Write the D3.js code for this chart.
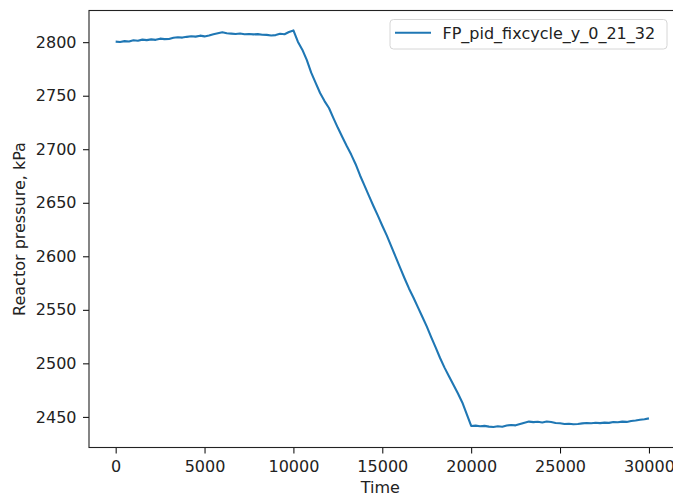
<!DOCTYPE html>
<html>
<head>
<meta charset="utf-8">
<script src="https://cdn.jsdelivr.net/npm/d3@7"></script>
<style>
  html, body { margin: 0; padding: 0; background: #fff; overflow: hidden; }
  svg { display: block; font-family: "DejaVu Sans", sans-serif; }
</style>
</head>
<body>
<svg id="chart" width="673" height="494"></svg>
<script>
// ---- data ----
const seriesName = "FP_pid_fixcycle_y_0_21_32";
const times = d3.range(0, 30001, 250);
const pressurePlateau1 = [
  2800.5, 2800.2, 2801.0, 2800.6, 2801.8, 2801.3, 2802.4, 2801.9, 2802.6, 2802.2,
  2803.3, 2802.9, 2803.0, 2804.1, 2804.6, 2804.3, 2805.0, 2805.5, 2805.2, 2806.1,
  2805.4, 2806.3, 2807.5, 2808.4, 2809.2, 2808.3, 2808.0, 2807.6, 2808.1, 2807.4,
  2807.7, 2807.3, 2807.5, 2807.0, 2806.8, 2806.2, 2806.6, 2807.9, 2807.4, 2809.5,
  2811.0
];
const pressureDecline = [
  2800.5, 2793.0, 2783.5, 2771.5, 2762.0, 2752.5, 2745.0, 2738.5, 2729.0, 2720.0,
  2711.5, 2703.0, 2695.0, 2686.0, 2675.5, 2666.0, 2656.5, 2647.0, 2638.0, 2628.5,
  2619.5, 2609.5, 2599.5, 2589.5, 2579.5, 2570.0, 2561.5, 2552.5, 2543.5, 2534.5,
  2524.5, 2515.0, 2505.0, 2496.0, 2488.0, 2480.0, 2472.0, 2463.5, 2452.5, 2441.5
];
const pressurePlateau2 = [
  2441.8, 2441.2, 2441.6, 2440.9, 2440.6, 2441.2, 2440.8, 2441.9, 2442.4, 2442.1,
  2443.3, 2444.6, 2445.6, 2445.1, 2445.4, 2444.8, 2445.7, 2445.2, 2444.3, 2444.0,
  2443.4, 2443.6, 2443.1, 2443.4, 2443.9, 2444.3, 2444.1, 2444.5, 2444.2, 2444.6,
  2444.4, 2445.2, 2445.0, 2445.6, 2445.3, 2446.2, 2446.6, 2447.3, 2447.8, 2448.6
];
const pressure = pressurePlateau1.concat(pressureDecline, pressurePlateau2);
const xTicks = [0, 5000, 10000, 15000, 20000, 25000, 30000];
const yTicks = [2450, 2500, 2550, 2600, 2650, 2700, 2750, 2800];

// ---- layout ----
const svg = d3.select("#chart");
const pLeft = 89, pRight = 675.6, pTop = 10.5, pBottom = 447.5;

const x = d3.scaleLinear().domain([-1500, 31500]).range([pLeft, pRight]);
const y = d3.scaleLinear().domain([2421.4, 2829.6]).range([pBottom, pTop]);

const data = times.map((t, i) => ({ t, v: pressure[i] }));

// line
svg.append("path")
  .datum(data)
  .attr("fill", "none")
  .attr("stroke", "#1f77b4")
  .attr("stroke-width", 2.1)
  .attr("stroke-linejoin", "round")
  .attr("d", d3.line().x(d => x(d.t)).y(d => y(d.v)));

// axes
const fontSize = "16px";
const xAxis = svg.append("g")
  .attr("transform", `translate(0,${pBottom})`)
  .call(d3.axisBottom(x).tickValues(xTicks).tickFormat(d3.format("d")).tickSizeOuter(0).tickSize(6).tickPadding(7.5));
const yAxis = svg.append("g")
  .attr("transform", `translate(${pLeft},0)`)
  .call(d3.axisLeft(y).tickValues(yTicks).tickFormat(d3.format("d")).tickSizeOuter(0).tickSize(6).tickPadding(6.5));
[xAxis, yAxis].forEach(g => {
  g.select(".domain").remove();
  g.selectAll("line").attr("stroke", "#000").attr("stroke-width", 1);
  g.selectAll("text").attr("fill", "#222").style("font-size", fontSize).style("font-family", "DejaVu Sans, sans-serif");
});

// frame
svg.append("rect")
  .attr("x", pLeft).attr("y", pTop)
  .attr("width", pRight - pLeft).attr("height", pBottom - pTop)
  .attr("fill", "none").attr("stroke", "#222").attr("stroke-width", 1.1);

// axis labels
svg.append("text")
  .attr("x", (pLeft + pRight) / 2 - 2).attr("y", 493)
  .attr("text-anchor", "middle")
  .attr("fill", "#222")
  .style("font-size", fontSize)
  .text("Time");
svg.append("text")
  .attr("transform", `translate(25,${(pTop + pBottom) / 2}) rotate(-90)`)
  .attr("text-anchor", "middle")
  .attr("fill", "#222")
  .style("font-size", fontSize)
  .text("Reactor pressure, kPa");

// legend
const lg = svg.append("g");
lg.append("rect")
  .attr("x", 390).attr("y", 19.5).attr("width", 277).attr("height", 29.5)
  .attr("rx", 3.5).attr("fill", "#fff").attr("fill-opacity", 0.8)
  .attr("stroke", "#d6d6d6").attr("stroke-width", 1);
lg.append("line")
  .attr("x1", 395).attr("x2", 431).attr("y1", 32.8).attr("y2", 32.8)
  .attr("stroke", "#1f77b4").attr("stroke-width", 2.1);
lg.append("text")
  .attr("x", 442.5).attr("y", 38.8)
  .attr("fill", "#222")
  .style("font-size", fontSize)
  .text(seriesName);
</script>
</body>
</html>
